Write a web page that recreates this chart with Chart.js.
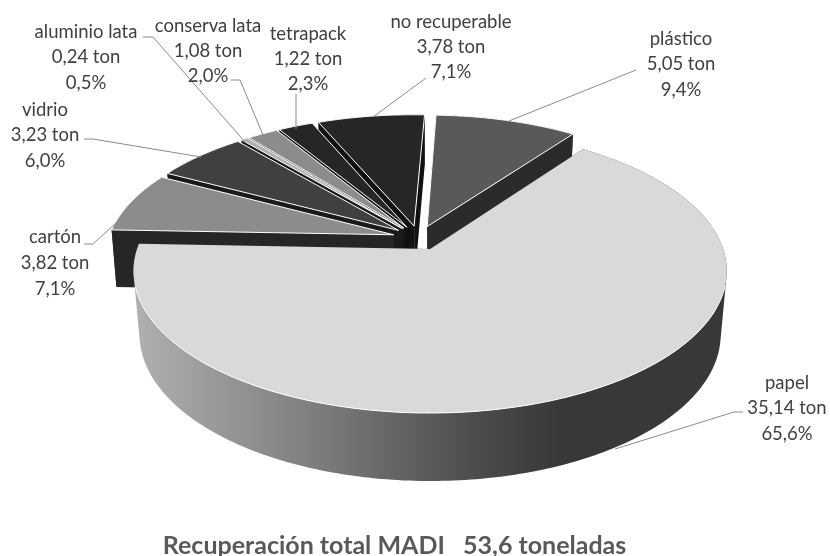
<!DOCTYPE html>
<html><head><meta charset="utf-8">
<style>html,body{margin:0;padding:0;background:#fff}#w{width:830px;height:556px}</style>
<script src="https://cdn.jsdelivr.net/npm/chart.js@4"></script></head>
<body><div id="w"><canvas id="c" width="830" height="556"></canvas></div>
<script>
const categories = ['plástico','papel','cartón','vidrio','aluminio lata','conserva lata','tetrapack','no recuperable'];
const tons = [5.05,35.14,3.82,3.23,0.24,1.08,1.22,3.78];
const tonLabels = ['5,05 ton','35,14 ton','3,82 ton','3,23 ton','0,24 ton','1,08 ton','1,22 ton','3,78 ton'];
const pctLabels = ['9,4%','65,6%','7,1%','6,0%','0,5%','2,0%','2,3%','7,1%'];
const topColors = ['#595959','#d9d9d9','#8c8c8c','#404040','#b0b0b0','#8c8c8c','#262626','#262626'];
const wallColors = ['#2b2b2b','#2b2b2b','#262626','#1a1a1a','#1a1a1a','#1a1a1a','#111111','#111111'];
const titleText = 'Recuperación total MADI   53,6 toneladas';

// projection of the pie disk on the page
const P = {x:430,y:249,a:293,b:138.6,p:0.155,cu:-0.039,cv:-0.081,explode:0.09,shrink:0.97};
const project = (u,v,low,big) => {
  const w = 1 - P.p*v;
  let x = P.x + P.a*u/w, y = P.y + P.b*v/w;
  if (low) { x = P.x + (x-P.x)*(big?0.98:0.985); y += (big?62:58) + 6*v; }
  return [x,y];
};
const paint = [0,7,6,5,4,3,2,1];
const labelBoxes = [
 {x:681,y:39,line:[[636,70],[509,121]]},
 {x:787,y:383,line:[[743,412],[734,412],[615,449]]},
 {x:55,y:237,line:[[84,244],[93,244],[116,223]]},
 {x:45,y:110,line:[[84,139],[93,139],[201,157]]},
 {x:86,y:32,line:[[143,37],[153,37],[245,142]]},
 {x:208,y:26,line:[[231,80],[240,80],[263,135]]},
 {x:308,y:34,line:[[296,94],[296,129]]},
 {x:451,y:22,line:[[426,78],[373,117]]}
];
const lineSteps = [25.5,25.5,26,25.5,25.5,25,25,25];

function poly(ctx,pts){ctx.beginPath();pts.forEach((q,i)=>i?ctx.lineTo(q[0],q[1]):ctx.moveTo(q[0],q[1]));ctx.closePath();}
function addQuad(ctx,pts){
  let area=0;
  pts.forEach((q,i)=>{const r=pts[(i+1)%pts.length];area+=q[0]*r[1]-r[0]*q[1];});
  const o = area<0?pts.slice().reverse():pts;
  o.forEach((q,i)=>i?ctx.lineTo(q[0],q[1]):ctx.moveTo(q[0],q[1]));
  ctx.closePath();
}

const pie3d = {
  id:'pie3d',
  beforeDatasetsDraw(chart){
    const ctx = chart.ctx, arcs = chart.getDatasetMeta(0).data;
    ctx.save();
    ctx.lineJoin='round';
    paint.forEach(i=>{
      const el = arcs[i], s = el.startAngle, e = el.endAngle, m=(s+e)/2;
      const big = i===1;
      const au = P.cu+P.explode*Math.cos(m), av = P.cv+P.explode*Math.sin(m);
      const n = Math.max(6,Math.ceil((e-s)*60));
      const rim=[];
      for(let k=0;k<=n;k++){
        const t=s+(e-s)*k/n;
        const r = big?1:P.shrink+0.015*Math.max(0,-Math.cos(t));
        rim.push([au+r*Math.cos(t),av+r*Math.sin(t)]);
      }
      const top = rim.map(q=>project(q[0],q[1],false,big));
      const low = rim.map(q=>project(q[0],q[1],true,big));
      const a0 = project(au,av,false,big), a1 = project(au,av,true,big);
      ctx.fillStyle = wallColors[i];
      poly(ctx,[a0,top[0],low[0],a1]);ctx.fill();
      poly(ctx,[a0,top[n],low[n],a1]);ctx.fill();
      let wall = wallColors[i];
      if(big){
        wall = ctx.createLinearGradient(135,0,560,0);
        wall.addColorStop(0,'#b0b0b0');wall.addColorStop(.45,'#7a7a7a');wall.addColorStop(.8,'#4c4c4c');wall.addColorStop(1,'#383838');
      }
      ctx.fillStyle=wall;
      ctx.beginPath();
      for(let k=0;k<n;k++) addQuad(ctx,[top[k],top[k+1],low[k+1],low[k]]);
      ctx.fill('nonzero');
      poly(ctx,[a0].concat(top));
      ctx.fillStyle = el.options.backgroundColor;ctx.fill();
      ctx.strokeStyle='#ffffff';ctx.lineWidth=1;
      if(!big)ctx.stroke();
      else{ctx.beginPath();top.forEach(q=>{if(q[1]>285)ctx.lineTo(q[0],q[1]);});ctx.stroke();}
    });
    ctx.restore();
    return false;
  },
  afterDraw(chart){
    const ctx = chart.ctx;
    ctx.save();
    ctx.strokeStyle='#8a8a8a';ctx.lineWidth=1;
    ctx.font='18.5px Lato';ctx.fillStyle='#404040';ctx.textAlign='center';ctx.textBaseline='middle';
    labelBoxes.forEach((b,i)=>{
      ctx.beginPath();b.line.forEach((q,k)=>k?ctx.lineTo(q[0],q[1]):ctx.moveTo(q[0],q[1]));ctx.stroke();
      [categories[i],tonLabels[i],pctLabels[i]].forEach((t,k)=>ctx.fillText(t,b.x,b.y+k*lineSteps[i]));
    });
    ctx.restore();
  }
};

new Chart(document.getElementById('c'),{
  type:'pie',
  data:{labels:categories,datasets:[{data:tons,backgroundColor:topColors,borderWidth:0}]},
  options:{responsive:false,animation:false,rotation:2,
    plugins:{legend:{display:false},tooltip:{enabled:false},
      title:{display:true,text:titleText,position:'bottom',color:'#595959',
        font:{family:'Lato',size:25,weight:'bold'},padding:{top:0,bottom:0}}},
    layout:{padding:{bottom:-5,right:41}}
  },
  plugins:[pie3d]
});
</script></body></html>
